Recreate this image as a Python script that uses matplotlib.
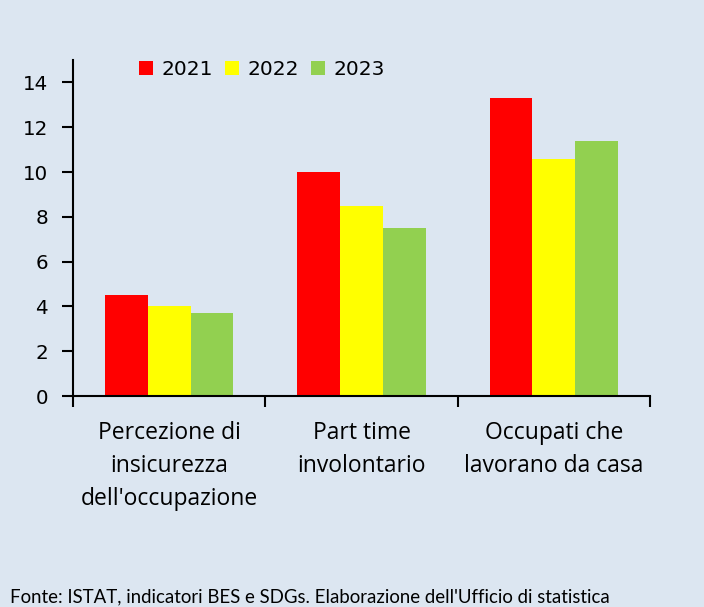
import numpy as np
import matplotlib.pyplot as plt

# dati
categorie = ["Percezione di\ninsicurezza\ndell'occupazione",
             "Part time\ninvolontario",
             "Occupati che\nlavorano da casa"]
anni = ["2021", "2022", "2023"]
v2021 = [4.5, 10.0, 13.3]
v2022 = [4.0, 8.5, 10.6]
v2023 = [3.7, 7.5, 11.4]
colori = ["#ff0000", "#ffff00", "#92d050"]

sfondo = "#dce6f1"
fig = plt.figure(figsize=(7.04, 6.07), dpi=100, facecolor=sfondo)
ax = fig.add_axes([0.1037, 0.3476, 0.8196, 0.5534])
ax.set_facecolor(sfondo)

x = np.arange(len(categorie))
w = 0.222
serie = [v2021, v2022, v2023]
for i, (anno, vals) in enumerate(zip(anni, serie)):
    ax.bar(x + (i - 1) * w, vals, w, color=colori[i], label=anno, linewidth=0)

ax.set_xlim(-0.5, 2.5)
ax.set_ylim(0, 15)
ax.set_yticks(np.arange(0, 15, 2))
ax.tick_params(axis='y', direction='out', length=8, width=1.5, pad=10,
               labelsize=14.3)
for t in ax.get_yticklabels():
    t.set_fontfamily('DejaVu Sans')

ax.set_xticks(x)
ax.set_xticklabels(categorie, fontfamily='Open Sans', fontsize=16.5, linespacing=1.5)
ax.tick_params(axis='x', which='major', length=0, pad=18)
ax.set_xticks([-0.5, 0.5, 1.5, 2.5], minor=True)
ax.tick_params(axis='x', which='minor', direction='out', length=8, width=1.5)

for s in ['top', 'right']:
    ax.spines[s].set_visible(False)
for s in ['left', 'bottom']:
    ax.spines[s].set_linewidth(1.5)

fig.legend(loc='center', bbox_to_anchor=(0.372, 0.885), ncol=3, frameon=False,
           prop={'family': 'DejaVu Sans', 'size': 14.5}, handlelength=0.7,
           handleheight=0.7, handletextpad=0.4, columnspacing=0.6)

fig.text(0.014, 0.003, "Fonte: ISTAT, indicatori BES e SDGs. Elaborazione dell'Ufficio di statistica",
         fontfamily='Lato', fontsize=13.4, va='bottom', ha='left')

fig.savefig("out.png", dpi=100, facecolor=sfondo)
